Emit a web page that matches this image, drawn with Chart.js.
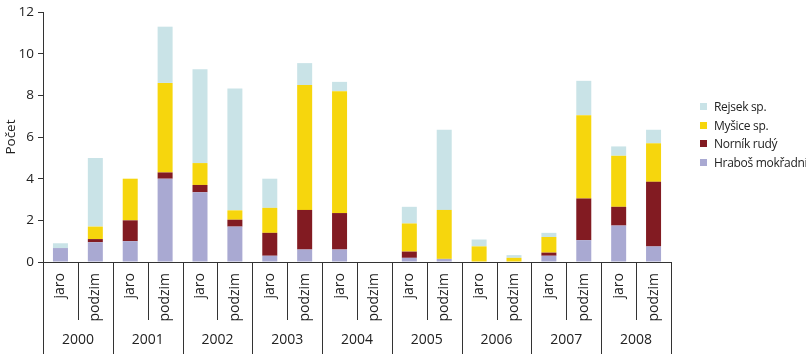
<!DOCTYPE html>
<html>
<head>
<meta charset="utf-8">
<script src="https://cdn.jsdelivr.net/npm/chart.js@4/dist/chart.umd.min.js"></script>
<style>
  html, body { margin: 0; padding: 0; background: #fff; }
  #wrap { position: relative; width: 806px; height: 354px; overflow: hidden; }
  #legend { position: absolute; left: 700px; top: 100px; font: 12px "Open Sans", sans-serif; letter-spacing: -0.3px; color: #222; }
  #legend div { height: 18.7px; line-height: 14px; white-space: nowrap; }
  #legend span { display: inline-block; width: 7px; height: 7px; margin-right: 7px; vertical-align: 1px; }
</style>
</head>
<body>
<div id="wrap">
  <canvas id="chart" width="806" height="354"></canvas>
  <div id="legend"></div>
</div>
<script>
const years = ["2000", "2001", "2002", "2003", "2004", "2005", "2006", "2007", "2008"];
const seasons = ["jaro", "podzim"];

// values per category (jaro/podzim for each year), bottom to top of the stack
const hrabos = [0.67, 0.95, 1.0, 4.0, 3.35, 1.7, 0.3, 0.6, 0.6, 0, 0.2, 0.15, 0, 0, 0.3, 1.05, 1.75, 0.75];
const nornik = [0, 0.15, 1.0, 0.3, 0.35, 0.33, 1.1, 1.9, 1.75, 0, 0.3, 0, 0, 0, 0.15, 2.0, 0.9, 3.1];
const mysice = [0, 0.6, 2.0, 4.3, 1.05, 0.45, 1.2, 6.0, 5.85, 0, 1.35, 2.35, 0.75, 0.2, 0.75, 4.0, 2.45, 1.85];
const rejsek = [0.23, 3.3, 0, 2.7, 4.5, 5.85, 1.4, 1.05, 0.45, 0, 0.8, 3.85, 0.33, 0.13, 0.2, 1.65, 0.45, 0.65];

const yTicks = [0, 2, 4, 6, 8, 10, 12];

const labels = [];
years.forEach(y => seasons.forEach(s => labels.push(s)));

const series = [
  { label: "Hraboš mokřadní", data: hrabos, color: "#a9a9d2" },
  { label: "Norník rudý", data: nornik, color: "#821b22" },
  { label: "Myšice sp.", data: mysice, color: "#f6d60d" },
  { label: "Rejsek sp.", data: rejsek, color: "#c9e3e7" }
];

const font = "'Open Sans', sans-serif";
const axisColor = "#333";

// year dividers and year labels under the season ticks
const yearAxis = {
  id: "yearAxis",
  afterDraw(chart) {
    const ctx = chart.ctx;
    const x = chart.scales.x;
    const bottom = chart.chartArea.bottom;
    const step = x.getPixelForValue(1) - x.getPixelForValue(0);
    ctx.save();
    ctx.strokeStyle = axisColor;
    ctx.lineWidth = 1;
    for (let i = 0; i <= labels.length; i++) {
      const px = Math.round(x.getPixelForValue(i) - step / 2) + 0.5;
      const end = i % 2 === 0 ? chart.height : bottom + 58;
      ctx.beginPath();
      ctx.moveTo(px, bottom);
      ctx.lineTo(px, end);
      ctx.stroke();
    }
    ctx.fillStyle = "#222";
    ctx.font = "14px " + font;
    ctx.textAlign = "center";
    ctx.textBaseline = "middle";
    years.forEach((y, i) => {
      const px = (x.getPixelForValue(i * 2) + x.getPixelForValue(i * 2 + 1)) / 2;
      ctx.fillText(y, px, bottom + 78);
    });
    ctx.restore();
  }
};

new Chart(document.getElementById("chart"), {
  type: "bar",
  data: {
    labels: labels,
    datasets: series.map(s => ({
      label: s.label,
      data: s.data,
      backgroundColor: s.color,
      borderWidth: 0,
      barPercentage: 0.43,
      categoryPercentage: 1
    }))
  },
  options: {
    responsive: false,
    animation: false,
    layout: { padding: { top: 8, right: 135, left: 0, bottom: 0 } },
    plugins: {
      legend: { display: false },
      tooltip: { enabled: false }
    },
    scales: {
      x: {
        stacked: true,
        grid: { display: false },
        border: { color: axisColor },
        ticks: {
          color: "#222",
          font: { family: font, size: 14 },
          minRotation: 90,
          maxRotation: 90,
          padding: 3
        },
        afterFit(scale) { scale.height = 92; }
      },
      y: {
        stacked: true,
        min: 0,
        max: 12,
        afterBuildTicks(scale) { scale.ticks = yTicks.map(v => ({ value: v })); },
        grid: { drawOnChartArea: false, tickLength: 5, color: axisColor },
        border: { color: axisColor },
        ticks: { color: "#222", font: { family: font, size: 13.5 }, padding: 4 },
        title: { display: true, text: "Počet", color: "#222", font: { family: font, size: 13.5 }, padding: { top: 3, bottom: 0 } },
        afterFit(scale) { scale.width = 43; }
      }
    }
  },
  plugins: [yearAxis]
});

const legend = document.getElementById("legend");
series.slice().reverse().forEach(s => {
  const row = document.createElement("div");
  row.innerHTML = `<span style="background:${s.color}"></span>${s.label}`;
  legend.appendChild(row);
});
</script>
</body>
</html>
